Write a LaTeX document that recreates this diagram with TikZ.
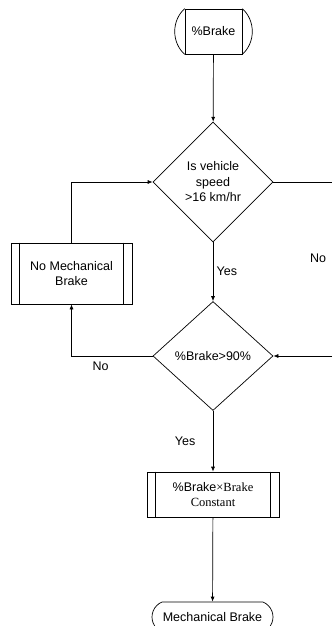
\documentclass[tikz,border=0pt]{standalone}
\usepackage{fontspec}
\setmainfont{Liberation Sans}
\newfontfamily\timesfont{Liberation Serif}
\usetikzlibrary{shapes.geometric,shapes.misc,arrows.meta}
\tikzset{
    every node/.style={font=\fontsize{12.5}{15.5}\selectfont},
    line/.style={line width=0.7pt},
    flowarrow/.style={line, -{Latex[length=5pt,width=4pt]}},
    decision/.style={draw, line, diamond, align=center, inner sep=0pt, minimum width=120pt},
    procbox/.style={draw, line, rectangle, align=center, inner sep=0pt,
            append after command={
                    ([xshift=9pt]\tikzlastnode.north west) edge ([xshift=9pt]\tikzlastnode.south west)
                    ([xshift=-9pt]\tikzlastnode.north east) edge ([xshift=-9pt]\tikzlastnode.south east)
                }
        },
    capbox/.style={draw, line, rectangle, inner sep=0pt,
            append after command={
                    (\tikzlastnode.north west) edge[bend right=48] (\tikzlastnode.south west)
                    (\tikzlastnode.north east) edge[bend left=48] (\tikzlastnode.south east)
                }
        },
    terminal/.style={draw, line, rounded rectangle, rounded rectangle arc length=135, inner sep=0pt},
}

\begin{document}
\begin{tikzpicture}[x=1pt, y=-1pt, line]
        \useasboundingbox (0, 0) rectangle (332, 626);
        %start and decisions
        \node[capbox, minimum width=57pt, minimum height=45pt] (brake) at (213.5, 31.5) {\%Brake};
        \node[decision, minimum height=120pt] (speed) at (213, 182) {Is vehicle\\speed\\>16 km/hr};
        \node[decision, minimum height=109pt] (pct) at (213, 356) {\%Brake>90\%};
        %process boxes
        \node[procbox, minimum width=121pt, minimum height=61pt] (nomech) at (71.5, 273.5) {No Mechanical\\Brake};
        \node[procbox, minimum width=132pt, minimum height=45pt] (calc) at (213, 494.5)
            {\%Brake{\timesfont ×Brake}\\\timesfont Constant};
        %end
        \node[terminal, minimum width=121pt, minimum height=30pt] (mech) at (212.5, 617) {Mechanical Brake};
        %loose ends at the right border
        \coordinate (rightout) at (332, 182);
        \coordinate (rightin) at (332, 356);
        \node (nolabel) at (318, 258) {No};
        %connectors
        \draw[flowarrow] (brake) -- (speed);
        \draw[flowarrow] (speed) -- node[right] {Yes} (pct);
        \draw (speed.east) -- (rightout);
        \draw[flowarrow] (rightin) -- (pct.east);
        \draw[flowarrow] (nomech.north) |- (speed.west);
        \draw[flowarrow] (pct.west) -| node[pos=0.32, below=2pt] {No} (nomech.south);
        \draw[flowarrow] (pct) -- node[left=14pt] {Yes} (calc);
        \draw[flowarrow] (calc) -- (mech);
    \end{tikzpicture}
\end{document}
